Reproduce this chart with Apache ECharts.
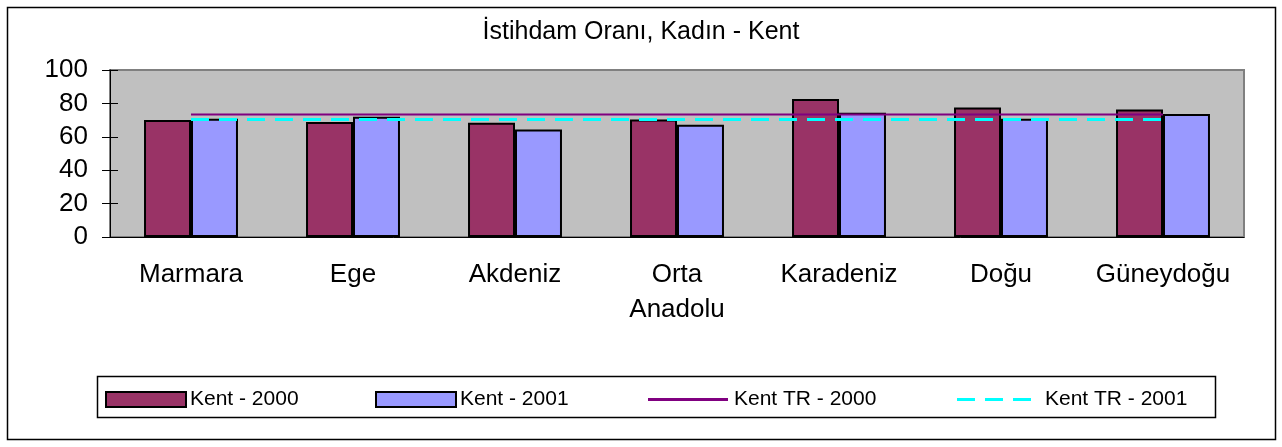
<!DOCTYPE html>
<html>
<head>
<meta charset="utf-8">
<title>İstihdam Oranı, Kadın - Kent</title>
<script src="https://cdn.jsdelivr.net/npm/echarts@6/dist/echarts.min.js"></script>
<style>
    html, body { margin: 0; padding: 0; background: #fff; }
    #chart1 { width: 1282px; height: 447px; }
</style>
</head>
<body>
<div id="chart1"></div>
<script>
// veriler
var bolgeler = ['Marmara', 'Ege', 'Akdeniz', 'Orta Anadolu', 'Karadeniz', 'Doğu', 'Güneydoğu'];
var kent2000 = [70.0, 68.8, 68.4, 70.4, 82.6, 77.6, 76.4];
var kent2001 = [70.8, 72.0, 64.4, 67.2, 74.4, 70.8, 73.6];
var kentTR2000 = [73.4, 73.4, 73.4, 73.4, 73.4, 73.4, 73.4];
var kentTR2001 = [70.4, 70.4, 70.4, 70.4, 70.4, 70.4, 70.4];
var seriAdlari = ['Kent - 2000', 'Kent - 2001', 'Kent TR - 2000', 'Kent TR - 2001'];

var FONT = 'Liberation Sans, Arial, sans-serif';

// lejant ikonları
var ICON_DUZ = 'path://M0,0h80v3h-80z';
var ICON_KESIK = 'path://M0,0h18v3h-18z M28,0h18v3h-18z M56,0h18v3h-18z';

function legendAt(item, left, itemWidth, textPad) {
    return {
        data: [item],
        left: left,
        top: 389,
        padding: 0,
        itemWidth: itemWidth,
        itemHeight: 15,
        itemGap: 0,
        selectedMode: false,
        textStyle: { fontFamily: FONT, fontSize: 21, color: '#000', padding: [0, 0, 0, textPad] }
    };
}

var myChart1 = echarts.init(document.getElementById('chart1'));

var option1 = {
    animation: false,
    backgroundColor: '#fff',
    textStyle: { fontFamily: FONT },
    title: {
        text: 'İstihdam Oranı, Kadın - Kent',
        left: 'center',
        top: 20,
        padding: 0,
        textStyle: { fontFamily: FONT, fontSize: 25, fontWeight: 'normal', color: '#000' }
    },
    legend: [
        legendAt({ name: seriAdlari[0], icon: 'rect' }, 105, 80, -1),
        legendAt({ name: seriAdlari[1], icon: 'rect' }, 375, 80, -1),
        legendAt({ name: seriAdlari[2], icon: ICON_DUZ, itemStyle: { color: '#800080', borderWidth: 0 } }, 648, 80, 1),
        legendAt({ name: seriAdlari[3], icon: ICON_KESIK, itemStyle: { color: '#00FFFF', borderWidth: 0 } }, 957, 74, 9)
    ],
    graphic: [
        {
            type: 'rect', z: -1, silent: true,
            shape: { x: 7.5, y: 7.5, width: 1268, height: 432 },
            style: { fill: 'none', stroke: '#000', lineWidth: 1.5 }
        },
        {
            type: 'rect', z: -1, silent: true,
            shape: { x: 97.5, y: 376.5, width: 1118, height: 41 },
            style: { fill: 'none', stroke: '#000', lineWidth: 1.5 }
        }
    ],
    grid: {
        left: 110,
        right: 38,
        top: 70,
        bottom: 210,
        show: true,
        backgroundColor: '#C0C0C0',
        borderColor: '#808080',
        borderWidth: 2
    },
    xAxis: [
        {
            type: 'category',
            data: bolgeler,
            axisLine: { lineStyle: { color: '#000', width: 1 } },
            axisTick: { length: 8, lineStyle: { color: '#000' } },
            axisLabel: {
                margin: 20,
                fontSize: 26,
                lineHeight: 35,
                color: '#000',
                interval: 0,
                formatter: function (v) { return v.replace(' ', '\n'); }
            }
        },
        {
            // iç tikler için
            type: 'category',
            data: bolgeler,
            position: 'bottom',
            axisLine: { show: false },
            axisTick: { inside: true, length: 8, lineStyle: { color: '#000' } },
            axisLabel: { show: false }
        }
    ],
    yAxis: [
        {
            type: 'value',
            min: 0,
            max: 100,
            interval: 20,
            axisLine: { show: true, lineStyle: { color: '#000', width: 1 } },
            axisTick: { show: true, length: 8, lineStyle: { color: '#000' } },
            axisLabel: { margin: 22, fontSize: 26, color: '#000' },
            splitLine: { show: false }
        },
        {
            type: 'value',
            min: 0,
            max: 100,
            interval: 20,
            position: 'left',
            axisLine: { show: false },
            axisTick: { show: true, inside: true, length: 8, lineStyle: { color: '#000' } },
            axisLabel: { show: false },
            splitLine: { show: false }
        }
    ],
    series: [
        {
            name: seriAdlari[0],
            type: 'bar',
            data: kent2000,
            barGap: '0%',
            barCategoryGap: '42%',
            itemStyle: { color: '#993366', borderColor: '#000', borderWidth: 2 }
        },
        {
            name: seriAdlari[1],
            type: 'bar',
            data: kent2001,
            itemStyle: { color: '#9999FF', borderColor: '#000', borderWidth: 2 }
        },
        {
            name: seriAdlari[2],
            type: 'line',
            data: kentTR2000,
            symbol: 'none',
            z: 5,
            itemStyle: { color: '#800080' },
            lineStyle: { color: '#800080', width: 2 }
        },
        {
            name: seriAdlari[3],
            type: 'line',
            data: kentTR2001,
            symbol: 'none',
            z: 5,
            itemStyle: { color: '#00FFFF' },
            lineStyle: { color: '#00FFFF', width: 3, type: [18, 10] }
        }
    ]
};

myChart1.setOption(option1);
</script>
</body>
</html>
